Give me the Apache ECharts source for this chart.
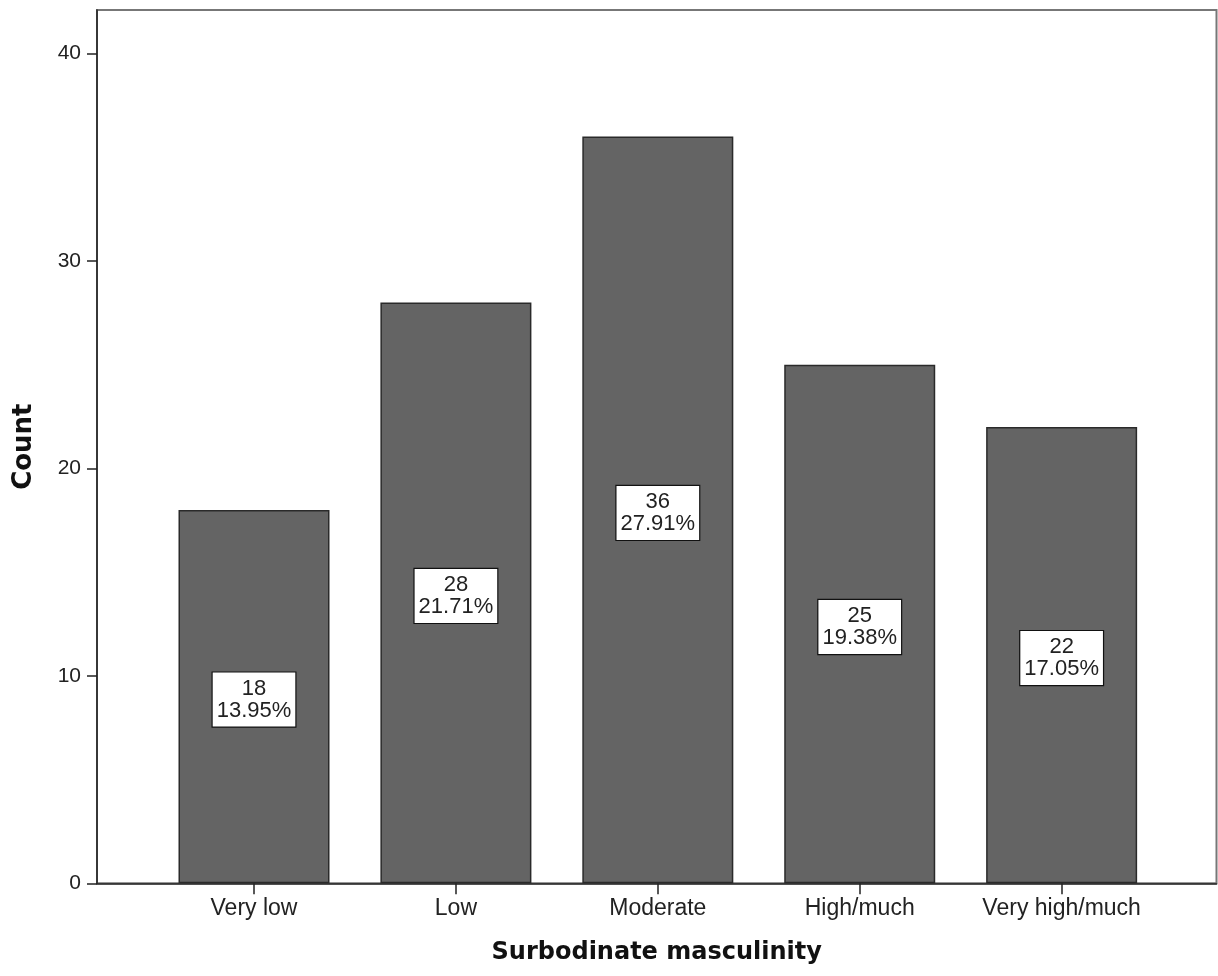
<!DOCTYPE html>
<html>
<head>
<meta charset="utf-8">
<script src="https://cdn.jsdelivr.net/npm/echarts@6/dist/echarts.min.js"></script>
<style>html,body{margin:0;padding:0;background:#fff;}#c{width:1218px;height:976px;}</style>
</head>
<body>
<div id="c"></div>
<script>
const categories = ['Very low', 'Low', 'Moderate', 'High/much', 'Very high/much'];
const counts = [18, 28, 36, 25, 22];
const percents = ['13.95%', '21.71%', '27.91%', '19.38%', '17.05%'];
const yTicks = [0, 10, 20, 30, 40];

const chart = echarts.init(document.getElementById('c'), null, {renderer: 'canvas'});
const positions = categories.map((c, i) => i);
const option = {
  animation: false,
  backgroundColor: '#fff',
  grid: {left: 97, right: 1.5, top: 10, bottom: 92.7, show: true, borderColor: '#777', borderWidth: 2, containLabel: false},
  xAxis: {
    type: 'value', min: -0.7776, max: 4.767,
    name: 'Surbodinate masculinity', nameLocation: 'middle', nameGap: 57,
    nameTextStyle: {fontFamily: 'DejaVu Sans', fontWeight: 'bold', fontSize: 24, color: '#111'},
    axisLine: {show: true, onZero: false, lineStyle: {color: '#222', width: 1.5}},
    axisTick: {show: true, length: 11, customValues: positions, lineStyle: {color: '#222', width: 1.5}},
    axisLabel: {show: true, customValues: positions, margin: 14, fontFamily: 'Liberation Sans', fontSize: 23, color: '#222',
      formatter: v => categories[Math.round(v)] || ''},
    splitLine: {show: false}
  },
  yAxis: {
    type: 'value', min: 0, max: 42.1, interval: 10,
    name: 'Count', nameLocation: 'middle', nameGap: 60,
    nameTextStyle: {fontFamily: 'DejaVu Sans', fontWeight: 'bold', fontSize: 26, color: '#111'},
    axisLine: {show: true, onZero: false, lineStyle: {color: '#222', width: 1.5}},
    axisTick: {show: true, length: 10, customValues: yTicks, lineStyle: {color: '#222', width: 1.5}},
    axisLabel: {margin: 16, customValues: yTicks, fontFamily: 'Liberation Sans', fontSize: 21, color: '#222',
      formatter: v => String(v)},
    splitLine: {show: false}
  },
  series: [{
    type: 'bar',
    barWidth: 151,
    data: counts.map((v, i) => [i, v]),
    itemStyle: {color: '#646464', borderColor: '#2a2a2a', borderWidth: 1.5},
    label: {
      show: true, position: 'inside', offset: [0, 3],
      formatter: p => counts[p.dataIndex] + '\n' + percents[p.dataIndex],
      fontFamily: 'Liberation Sans', fontSize: 22, lineHeight: 22, color: '#222',
      backgroundColor: '#fff', borderColor: '#111', borderWidth: 1.2, padding: [5, 4, 5, 4]
    }
  }]
};
chart.setOption(option);
</script>
</body>
</html>
